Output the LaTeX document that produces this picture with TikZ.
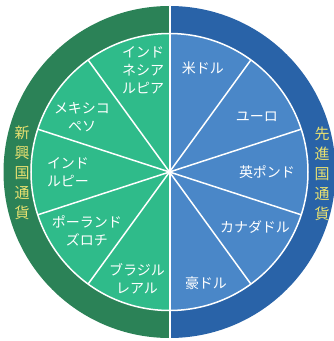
\documentclass[tikz,border=0pt]{standalone}
\usepackage{fontspec}
\setmainfont{Noto Sans CJK JP}
\definecolor{darkgreen}{HTML}{2B8257}
\definecolor{lightgreen}{HTML}{2FBB8A}
\definecolor{darkblue}{HTML}{2963A8}
\definecolor{lightblue}{HTML}{4A87C8}
\definecolor{ringtext}{HTML}{E8E070}

\begin{document}
\begin{tikzpicture}[x=1pt, y=1pt,
    currency/.style={text=white, font=\fontsize{14}{18}\selectfont, align=center, inner sep=0pt},
    group/.style={text=ringtext, font=\fontsize{15}{20}\selectfont, align=center, inner sep=0pt},
    spoke/.style={white, line width=1.5pt}]
    \useasboundingbox (0,0) rectangle (333,341);
    \coordinate (o) at (169.5,169);

    % Outer ring
    \fill[darkgreen] (o) -- ++(90:166) arc (90:270:166) -- cycle;
    \fill[darkblue] (o) -- ++(90:166) arc (90:-90:166) -- cycle;

    % Inner disc
    \fill[lightgreen] (o) -- ++(90:138.5) arc (90:270:138.5) -- cycle;
    \fill[lightblue] (o) -- ++(90:138.5) arc (90:-90:138.5) -- cycle;
    \draw[spoke] (o) circle (138.5);

    % Segment borders
    \foreach \a in {54,18,-18,-54,126,162,198,234} {
        \draw[spoke] (o) -- ++(\a:138.5);
    }
    \draw[white, line width=2pt] (169.5,3) -- (169.5,335);

    % Advanced currencies
    \node[currency] (usd) at (203,273) {米ドル};
    \node[currency] (eur) at (257,224) {ユーロ};
    \node[currency] (gbp) at (267,169) {英ポンド};
    \node[currency] (cad) at (255,114) {カナダドル};
    \node[currency] (aud) at (206,58) {豪ドル};

    % Emerging currencies
    \node[currency] (idr) at (143,271) {インド\\ネシア\\ルピア};
    \node[currency] (mxn) at (82,224) {メキシコ\\ペソ};
    \node[currency] (inr) at (68,169) {インド\\ルピー};
    \node[currency] (pln) at (87,110) {ポーランド\\ズロチ};
    \node[currency] (brl) at (137,62) {ブラジル\\レアル};

    % Ring titles
    \node[group] (emerging) at (22,168) {新\\興\\国\\通\\貨};
    \node[group] (advanced) at (322,167) {先\\進\\国\\通\\貨};
\end{tikzpicture}
\end{document}
